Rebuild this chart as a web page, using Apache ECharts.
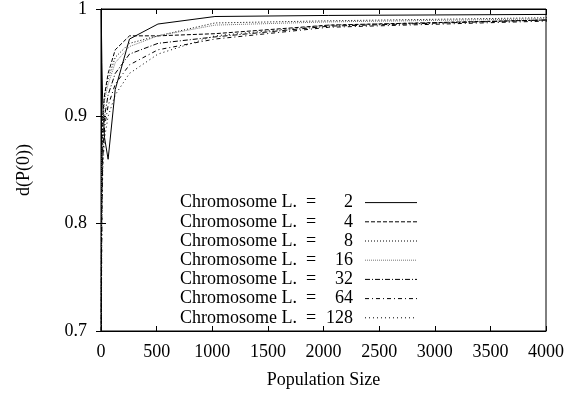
<!DOCTYPE html>
<html><head><meta charset="utf-8">
<script src="https://cdn.jsdelivr.net/npm/echarts@6/dist/echarts.min.js"></script>
<style>html,body{margin:0;padding:0;background:#fff}#c{width:576px;height:394px}</style>
</head><body><div id="c"></div>
<script>
const popSizes = [2,4,8,16,32,64,128,256,512,1024,2048,4096];
const chromLengths = [2,4,8,16,32,64,128];
const L2   = [1.0, 0.98, 0.95, 0.91, 0.88, 0.86, 0.925, 0.972, 0.986, 0.993, 0.994, 0.995];
const L4   = [0.70, 0.80, 0.86, 0.90, 0.92, 0.94, 0.962, 0.975, 0.975, 0.977, 0.985, 0.990];
const L8   = [0.72, 0.80, 0.86, 0.90, 0.92, 0.935, 0.955, 0.968, 0.975, 0.987, 0.989, 0.992];
const L16  = [0.70, 0.78, 0.85, 0.89, 0.915, 0.93, 0.95, 0.965, 0.975, 0.985, 0.988, 0.991];
const L32  = [0.68, 0.76, 0.83, 0.87, 0.90, 0.92, 0.94, 0.958, 0.968, 0.974, 0.984, 0.990];
const L64  = [0.66, 0.74, 0.81, 0.86, 0.89, 0.91, 0.93, 0.948, 0.962, 0.972, 0.983, 0.989];
const L128 = [0.64, 0.72, 0.80, 0.85, 0.88, 0.90, 0.92, 0.940, 0.958, 0.975, 0.985, 0.990];
const seriesValues = [L2, L4, L8, L16, L32, L64, L128];
const yTickLabels = ['0.7','0.8','0.9','1'];

const styles = [
  {color:'#000', type:'solid'},
  {color:'#000', type:[4,2]},
  {color:'#000', type:[1,2]},
  {color:'#777', type:[1,1]},
  {color:'#000', type:[5,2,1,2]},
  {color:'#000', type:[4,3,1,3]},
  {color:'#000', type:[1,3]}
];
const FONT = 'Liberation Serif';
const names = chromLengths.map(l => 'L' + l);
const series = seriesValues.map((vals, i) => ({
  name: names[i], type: 'line', symbol: 'none', clip: true, animation: false,
  data: popSizes.map((x, j) => [x, vals[j]]),
  lineStyle: {width: 1, color: styles[i].color, type: styles[i].type},
  itemStyle: {color: styles[i].color},
  xAxisIndex: 0, yAxisIndex: 0
}));
const chart = echarts.init(document.getElementById('c'));
const axisCommon = {
  axisLine: {show: true, lineStyle: {color: '#000', width: 1}},
  axisTick: {show: true, inside: true, length: 5, lineStyle: {color: '#000'}},
  splitLine: {show: false}
};
chart.setOption({
  animation: false,
  grid: {left: 101, right: 30, top: 8, bottom: 63, show: true, borderColor: '#000', borderWidth: 1},
  legend: {
    orient: 'vertical', left: 167, top: 188, align: 'right',
    itemWidth: 52, itemHeight: 10, itemGap: 0,
    itemStyle: {opacity: 0},
    lineStyle: {width: 1},
    data: names,
    formatter: function(n){ const idx = names.indexOf(n); return '{a|Chromosome L.  =}{b|' + chromLengths[idx] + '}{c|}'; },
    textStyle: {fontFamily: FONT, fontSize: 18, color: '#000', lineHeight: 19.2,
      rich: {a: {fontFamily: FONT, fontSize: 18, color: '#000', width: 140, align: 'left', padding: [0, 0, 0, 8]},
             b: {fontFamily: FONT, fontSize: 18, color: '#000', width: 33, align: 'right'},
             c: {width: 7}}}
  },
  xAxis: [
    Object.assign({type: 'value', min: 0, max: 4000, interval: 500,
      name: 'Population Size', nameLocation: 'middle', nameGap: 40,
      nameTextStyle: {fontFamily: FONT, fontSize: 18, color: '#000'},
      axisLabel: {fontFamily: FONT, fontSize: 18, color: '#000', margin: 12,
        formatter: v => String(v)}}, axisCommon),
    Object.assign({type: 'value', min: 0, max: 4000, interval: 500, position: 'top',
      axisLabel: {show: false}}, axisCommon)
  ],
  yAxis: [
    Object.assign({type: 'value', min: 0.7, max: 1, interval: 0.1,
      name: 'd(P(0))', nameLocation: 'middle', nameGap: 68, nameRotate: 90,
      nameTextStyle: {fontFamily: FONT, fontSize: 18, color: '#000'},
      axisLabel: {fontFamily: FONT, fontSize: 18, color: '#000', margin: 14,
        formatter: v => yTickLabels[Math.round((v - 0.7) * 10)]}}, axisCommon),
    Object.assign({type: 'value', min: 0.7, max: 1, interval: 0.1, position: 'right',
      axisLabel: {show: false}}, axisCommon)
  ],
  series: series
});
</script></body></html>
